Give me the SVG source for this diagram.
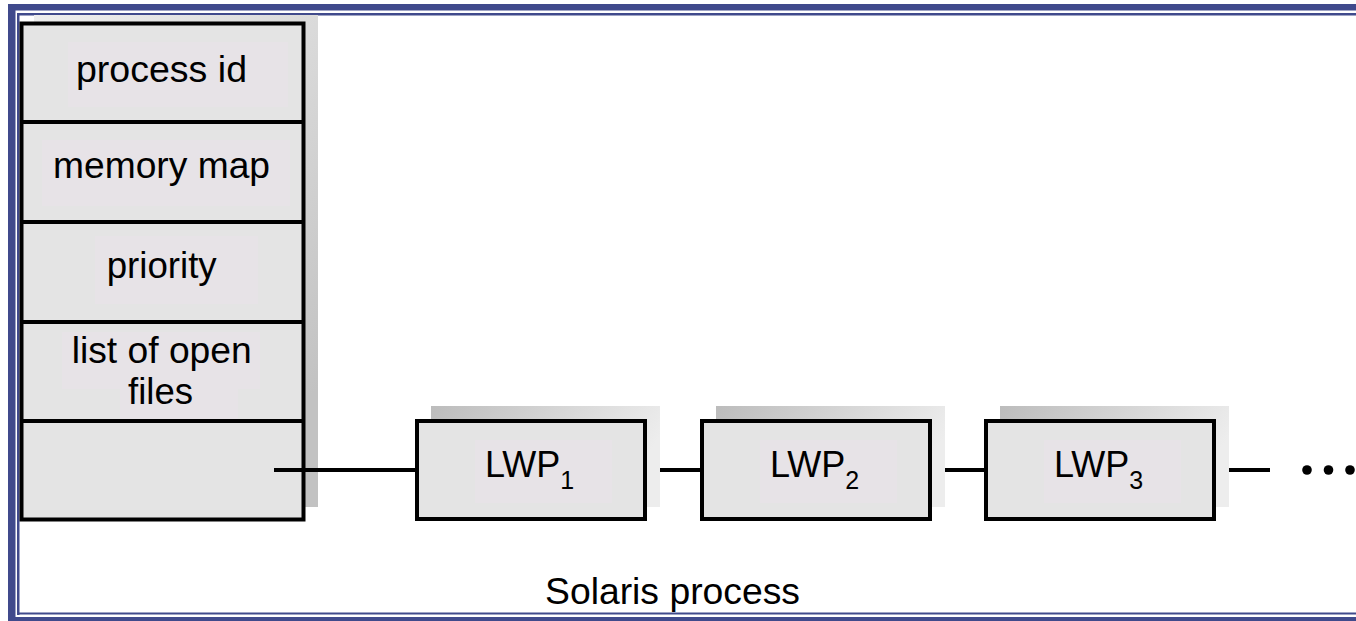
<svg xmlns="http://www.w3.org/2000/svg" width="1356" height="621" viewBox="0 0 1356 621">
<defs>
<linearGradient id="shLwp" x1="0" y1="0" x2="1" y2="0.3">
<stop offset="0" stop-color="#bcbcbc"/>
<stop offset="1" stop-color="#ededed"/>
</linearGradient>
<linearGradient id="shCol" x1="0" y1="0" x2="0.6" y2="1">
<stop offset="0" stop-color="#eeeeee"/>
<stop offset="1" stop-color="#c2c2c2"/>
</linearGradient>
<style>
.cell{fill:#e4e4e4;stroke:#000;stroke-width:4}
.hl{fill:#e7e3e7}
.lbl{font-family:"Liberation Sans",Arial,sans-serif;font-size:36px;fill:#000;text-anchor:middle}
.sub{font-size:25px}
.conn{stroke:#000;stroke-width:4;fill:none}
.frame{fill:#404a8c}
</style>
</defs>
<rect width="1356" height="621" fill="#ffffff"/>
<g id="frame">
<rect class="frame" x="8" y="4" width="1348" height="6.5"/>
<rect class="frame" x="8" y="4" width="7.5" height="617"/>
<rect class="frame" x="17" y="13" width="1339" height="2.5"/>
<rect class="frame" x="17" y="13" width="2.5" height="602"/>
<rect class="frame" x="17" y="612.5" width="1339" height="2"/>
<rect class="frame" x="8" y="617" width="1348" height="4"/>
</g>
<g id="process-table">
<rect x="34" y="15" width="284" height="492" fill="url(#shCol)"/>
<rect class="cell" x="21.5" y="23.5" width="282" height="496"/>
<rect class="hl" x="68" y="42" width="220" height="65"/>
<rect class="hl" x="42" y="140" width="248" height="66"/>
<rect class="hl" x="95" y="236" width="163" height="68"/>
<rect class="hl" x="62" y="332" width="198" height="57"/>
<rect class="hl" x="120" y="389" width="118" height="30"/>
<line class="conn" x1="21.5" y1="122" x2="303.5" y2="122"/>
<line class="conn" x1="21.5" y1="222" x2="303.5" y2="222"/>
<line class="conn" x1="21.5" y1="322" x2="303.5" y2="322"/>
<line class="conn" x1="21.5" y1="421" x2="303.5" y2="421"/>
<text class="lbl" x="161.5" y="82" textLength="171" lengthAdjust="spacingAndGlyphs">process id</text>
<text class="lbl" x="161.5" y="178" textLength="217" lengthAdjust="spacingAndGlyphs">memory map</text>
<text class="lbl" x="161.7" y="278" textLength="110" lengthAdjust="spacingAndGlyphs">priority</text>
<text class="lbl" x="161.7" y="363" textLength="180" lengthAdjust="spacingAndGlyphs">list of open</text>
<text class="lbl" x="160.5" y="404" textLength="65" lengthAdjust="spacingAndGlyphs">files</text>
</g>
<g id="connectors">
<line class="conn" x1="274" y1="470" x2="417" y2="470"/>
<line class="conn" x1="645" y1="470" x2="702" y2="470"/>
<line class="conn" x1="930" y1="470" x2="986" y2="470"/>
<line class="conn" x1="1214" y1="470" x2="1270" y2="470"/>
</g>
<g id="lwp1">
<rect x="431" y="406" width="229" height="101" fill="url(#shLwp)"/>
<rect class="cell" x="417" y="421" width="228" height="98"/>
<rect class="hl" x="475" y="440" width="137" height="63"/>
<text class="lbl" x="529.5" y="477">LWP<tspan class="sub" dy="12">1</tspan></text>
</g>
<g id="lwp2">
<rect x="716" y="406" width="229" height="101" fill="url(#shLwp)"/>
<rect class="cell" x="702" y="421" width="228" height="98"/>
<rect class="hl" x="760" y="440" width="137" height="63"/>
<text class="lbl" x="814.5" y="477">LWP<tspan class="sub" dy="12">2</tspan></text>
</g>
<g id="lwp3">
<rect x="1000" y="406" width="229" height="101" fill="url(#shLwp)"/>
<rect class="cell" x="986" y="421" width="228" height="98"/>
<rect class="hl" x="1044" y="440" width="137" height="63"/>
<text class="lbl" x="1098.5" y="477">LWP<tspan class="sub" dy="12">3</tspan></text>
</g>
<g id="ellipsis">
<circle cx="1307" cy="470" r="4.8" fill="#000"/>
<circle cx="1328.5" cy="470" r="4.8" fill="#000"/>
<circle cx="1350" cy="470" r="4.8" fill="#000"/>
</g>
<g id="caption">
<text class="lbl" x="672.5" y="604" textLength="255" lengthAdjust="spacingAndGlyphs">Solaris process</text>
</g>
</svg>
